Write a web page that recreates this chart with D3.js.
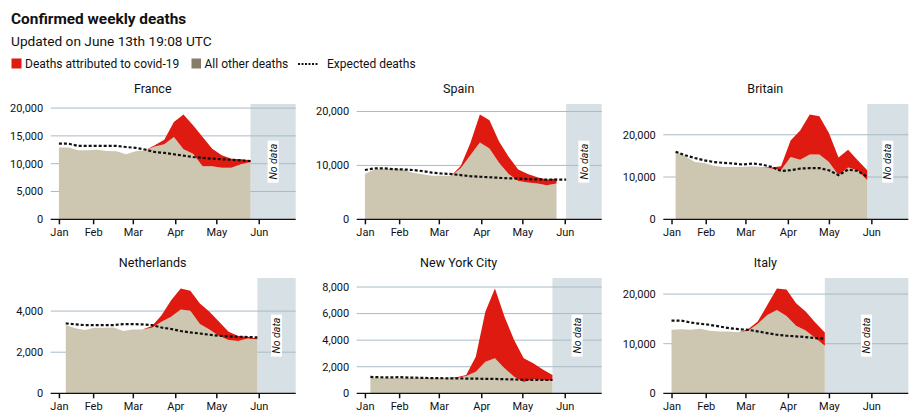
<!DOCTYPE html>
<html><head><meta charset="utf-8">
<script src="https://cdn.jsdelivr.net/npm/d3@7"></script>
<style>
html,body{margin:0;padding:0;background:#fff;}
svg{display:block;font-family:Roboto,"Noto Sans",sans-serif;}
</style></head>
<body>
<svg id="chart" width="917" height="416"></svg>
<script>
// ---------- data ----------
const months = ["Jan","Feb","Mar","Apr","May","Jun"];
const monthTickDates = ["2020-01-07","2020-02-01","2020-03-01","2020-04-01","2020-05-01","2020-06-01"];
const countries = ["France","Spain","Britain","Netherlands","New York City","Italy"];
const startDates = ["2020-01-07","2020-01-07","2020-01-10","2020-01-12","2020-01-11","2020-01-07"];

const otherFrance = [12900,12900,12400,12400,12500,12300,12250,11700,12250,12400,13100,13500,14800,12600,11800,9550,9550,9250,9250,9900,10300];
const covidFrance = [0,0,0,0,0,0,0,0,0,0,200,800,2700,6250,5100,5250,3150,2250,1650,900,300];
const expectedFrance = [13600,13600,13200,13200,13200,13200,13200,13000,12850,12550,12100,11950,11700,11450,11200,11050,10900,10800,10700,10600,10450];

const otherSpain = [8400,9250,9400,9400,9250,8650,8350,8100,8100,8100,9450,11900,14250,13150,10500,8400,7100,6850,6650,6300,6650];
const covidSpain = [0,0,0,0,0,0,0,0,0,0,450,2200,5200,5250,3950,3200,2150,1550,1150,1100,900];
const expectedSpain = [9150,9450,9450,9300,9250,9150,8950,8650,8500,8400,8200,8000,7900,7800,7700,7600,7550,7450,7400,7350,7350,7350];

const otherBritain = [16100,14900,13550,13350,12650,12400,12400,12400,12550,12400,12000,11600,14750,14100,15350,15350,13550,10450,12250,11600,9250];
const covidBritain = [0,0,0,0,0,0,0,0,0,0,250,950,3900,6900,9450,9050,6850,4150,4200,2350,2350];
const expectedBritain = [16000,15150,14500,13950,13550,13350,13200,12950,13200,12950,12400,11450,11600,12000,12100,12100,11600,10450,11750,11450,10050];

const otherNetherlands = [3320,3160,3080,3190,3190,3200,3030,3110,3110,3190,3480,3720,4080,4020,3370,3110,2790,2590,2540,2670,2620];
const covidNetherlands = [0,0,0,0,0,0,0,0,0,80,320,810,1020,970,1000,860,690,410,250,80,50];
const expectedNetherlands = [3400,3350,3320,3320,3320,3320,3370,3370,3350,3320,3200,3130,3030,2960,2910,2850,2800,2770,2750,2740,2720];

const otherNYC = [1180,1150,1150,1150,1150,1150,1150,1150,1150,1150,1300,1630,2380,2630,1880,1250,850,1050,1000,950];
const covidNYC = [0,0,0,0,0,0,0,0,0,50,80,1130,3760,5260,3880,2760,1780,1210,800,430];
const expectedNYC = [1230,1210,1190,1220,1180,1170,1150,1140,1130,1120,1110,1100,1090,1080,1060,1040,1020,1010,1000,1000];

const otherItaly = [12800,12930,12800,13000,12600,12470,12470,12330,12600,14000,15800,16800,15600,13600,12670,11130,9600];
const covidItaly = [0,0,0,0,0,0,0,0,330,470,2000,4330,5330,4530,3800,3140,2670];
const expectedItaly = [14670,14670,14270,14000,13800,13470,13130,12930,12800,12470,12130,11800,11600,11470,11330,11130,11000];

const yTicksFrance = [0,5000,10000,15000,20000];
const yTicksSpain = [0,10000,20000];
const yTicksBritain = [0,10000,20000];
const yTicksNetherlands = [0,2000,4000];
const yTicksNYC = [0,2000,4000,6000,8000];
const yTicksItaly = [0,10000,20000];

const otherSeries = [otherFrance,otherSpain,otherBritain,otherNetherlands,otherNYC,otherItaly];
const covidSeries = [covidFrance,covidSpain,covidBritain,covidNetherlands,covidNYC,covidItaly];
const expectedSeries = [expectedFrance,expectedSpain,expectedBritain,expectedNetherlands,expectedNYC,expectedItaly];
const yTickSets = [yTicksFrance,yTicksSpain,yTicksBritain,yTicksNetherlands,yTicksNYC,yTicksItaly];

// ---------- style / layout ----------
const RED = "#df1a10", BEIGE = "#cdc6b0", LEGEND_GREY = "#867e6b", GRID = "#a9bbc6", NODATA = "#d7e0e5";
const svg = d3.select("#chart");
const colX = [50.7, 356.7, 663.3], rowY = [104, 278];
const W = 245, H = 115.3;
const domainStart = new Date("2020-01-01"), domainEnd = new Date("2020-06-28");

// Title / legend
svg.append("text").attr("x",11).attr("y",24).attr("font-size",15.4).attr("font-weight",700).attr("fill","#111").text("Confirmed weekly deaths");
svg.append("text").attr("x",11).attr("y",46).attr("font-size",13.7).attr("fill","#111").text("Updated on June 13th 19:08 UTC");
const lg = svg.append("g");
lg.append("rect").attr("x",11.5).attr("y",58.5).attr("width",10).attr("height",10).attr("fill",RED);
lg.append("text").attr("x",25).attr("y",68).attr("font-size",12).attr("fill","#111").text("Deaths attributed to covid-19");
lg.append("rect").attr("x",191.5).attr("y",58.5).attr("width",9.5).attr("height",10).attr("fill",LEGEND_GREY);
lg.append("text").attr("x",204.5).attr("y",68).attr("font-size",12).attr("fill","#111").text("All other deaths");
lg.append("line").attr("x1",298).attr("x2",319).attr("y1",64).attr("y2",64).attr("stroke","#111").attr("stroke-width",2).attr("stroke-dasharray","2,1.5");
lg.append("text").attr("x",327).attr("y",68).attr("font-size",12).attr("fill","#111").text("Expected deaths");

countries.forEach((name, i) => {
  const g = svg.append("g").attr("transform", `translate(${colX[i%3]},${rowY[Math.floor(i/3)]})`);
  const start = new Date(startDates[i]);
  const other = otherSeries[i], covid = covidSeries[i], expected = expectedSeries[i];
  const rows = other.map((o, k) => ({date: d3.utcDay.offset(start, 7*k), other: o, total: o + covid[k]}));
  const expRows = expected.map((e, k) => ({date: d3.utcDay.offset(start, 7*k), v: e}));
  const maxTotal = d3.max(rows, d => d.total);

  const x = d3.scaleUtc().domain([domainStart, domainEnd]).range([0, W]);
  const y = d3.scaleLinear().domain([0, maxTotal * 1.1]).range([H, 0]);

  // no-data region
  const ndStart = x(expRows[expRows.length-1].date);
  g.append("rect").attr("x", ndStart).attr("y", 0).attr("width", W - ndStart).attr("height", H).attr("fill", NODATA);

  // grid
  yTickSets[i].filter(t => t > 0).forEach(t => {
    g.append("line").attr("x1",0).attr("x2",W).attr("y1",y(t)).attr("y2",y(t)).attr("stroke",GRID).attr("stroke-width",1);
  });

  // areas
  g.append("path").datum(rows).attr("fill", BEIGE)
    .attr("d", d3.area().x(d => x(d.date)).y0(y(0)).y1(d => y(d.other)));
  g.append("path").datum(rows).attr("fill", RED)
    .attr("d", d3.area().x(d => x(d.date)).y0(d => y(d.other)).y1(d => y(d.total)));

  // expected
  g.append("path").datum(expRows).attr("fill","none").attr("stroke","#111").attr("stroke-width",2.2)
    .attr("stroke-dasharray","3,2")
    .attr("d", d3.line().x(d => x(d.date)).y(d => y(d.v)));

  // no-data label
  const lab = g.append("g").attr("transform", `translate(${(ndStart + W)/2},${H/2}) rotate(-90)`);
  lab.append("rect").attr("x",-21).attr("y",-5.5).attr("width",42).attr("height",11).attr("fill","#fff");
  lab.append("text").attr("text-anchor","middle").attr("dy","0.35em").attr("font-size",10.5).attr("font-style","italic").attr("fill","#111").text("No data");

  // y labels
  yTickSets[i].forEach(t => {
    g.append("text").attr("x",-7.5).attr("y",y(t)).attr("dy","0.35em").attr("text-anchor","end")
      .attr("font-size",11).attr("fill","#111").text(d3.format(",")(t));
  });

  // x axis
  const xAxis = d3.axisBottom(x).tickValues(monthTickDates.map(d => new Date(d)))
    .tickFormat((d, k) => months[k]).tickSize(5).tickPadding(4);
  const ax = g.append("g").attr("transform", `translate(0,${H})`).call(xAxis);
  ax.select(".domain").attr("stroke","#111").attr("stroke-width",1.3).attr("d", `M0,0H${W}`);
  ax.selectAll(".tick line").attr("stroke","#111").attr("stroke-width",1.5);
  ax.selectAll(".tick text").attr("font-size",11).attr("fill","#111").attr("font-family","Roboto,sans-serif");

  // panel title
  g.append("text").attr("x",102).attr("y",-11).attr("text-anchor","middle").attr("font-size",12.5).attr("fill","#111").text(name);
});
</script>
</body></html>
